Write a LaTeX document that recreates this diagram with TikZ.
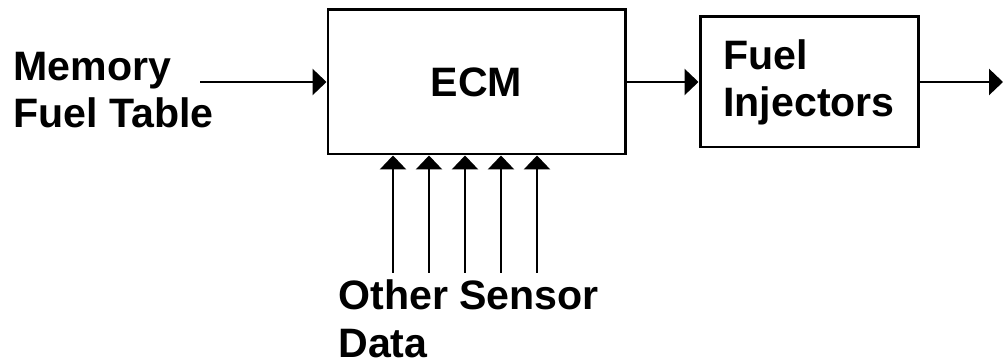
\documentclass[tikz,border=0pt]{standalone}
\usepackage{fontspec}
\setmainfont{Liberation Sans}
\usetikzlibrary{arrows.meta,positioning}
\tikzset{
  block/.style={
    draw=black,
    line width=1.7pt,
    fill=white,
    align=left,
    font=\fontsize{23.4}{26.7}\selectfont\bfseries,
    inner sep=0pt
  },
  label/.style={
    align=left,
    font=\fontsize{23.4}{26.7}\selectfont\bfseries,
    inner sep=0pt
  },
  flow/.style={line width=1.5pt, draw=black, -{Triangle[length=0.28cm,width=0.52cm]}}
}

\begin{document}
\begin{tikzpicture}[x=1cm,y=1cm]
\path[use as bounding box] (0,0) rectangle (20.1,7.28);
\fill[white] (0,0) rectangle (20.1,7.28);

\node[block, minimum width=5.94cm, minimum height=2.88cm] (ecm) at (9.53,5.64) {ECM};
\node[block, minimum width=4.36cm, minimum height=2.6cm] (inj) at (16.18,5.64) {Fuel\\Injectors};

\node[label, anchor=west] (table) at (0.26,5.48) {Memory\\Fuel Table};
\node[label, anchor=west, font=\fontsize{23.4}{27.4}\selectfont\bfseries] (sensor) at (6.76,0.9) {Other Sensor\\Data};

\coordinate (tablein) at (4.0,5.64);
\coordinate (out) at (20.06,5.64);

\draw[flow] (tablein) -- (ecm);
\draw[flow] (ecm) -- (inj);
\draw[flow] (inj) -- (out);

\foreach \i/\x in {1/7.86, 2/8.58, 3/9.30, 4/10.02, 5/10.74} {
  \coordinate (s\i) at (\x,1.82);
  \draw[flow] (s\i) -- (s\i |- ecm.south);
}

\end{tikzpicture}
\end{document}
